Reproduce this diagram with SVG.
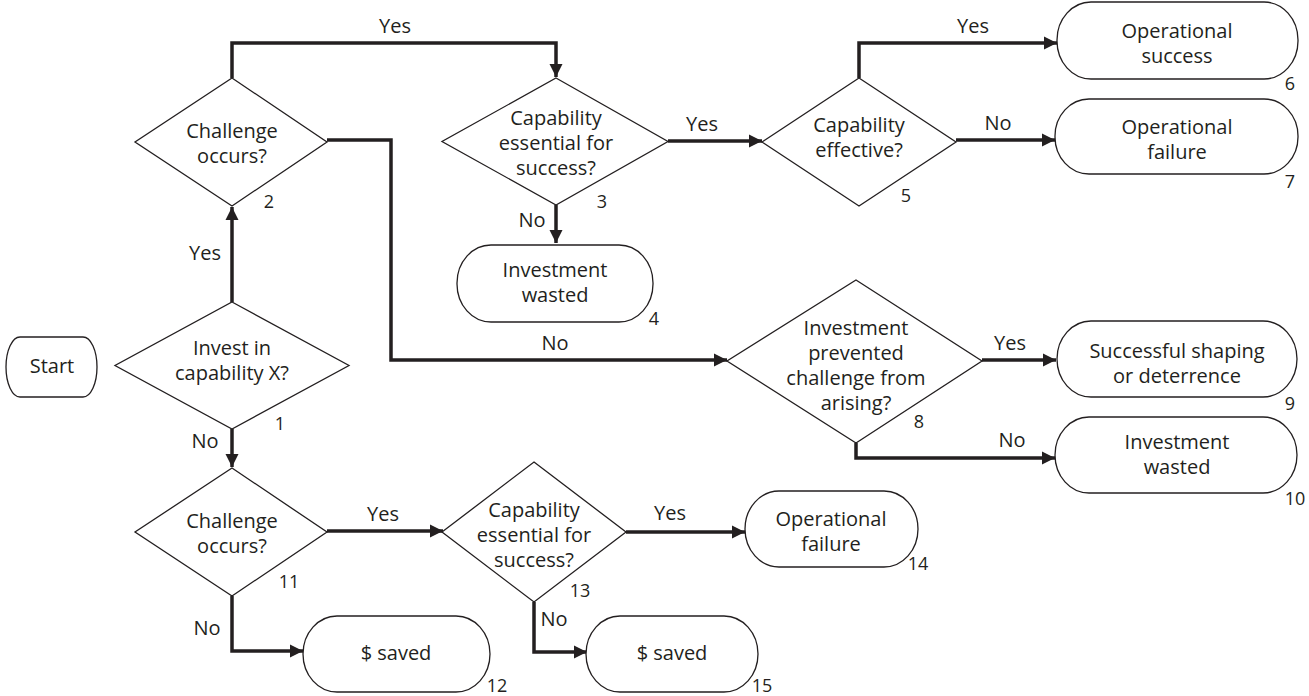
<svg xmlns="http://www.w3.org/2000/svg" width="1309" height="696" viewBox="0 0 1309 696">
<style>
text{font-family:"Open Sans","Noto Sans","Liberation Sans",sans-serif;font-size:20px;fill:#231f20;text-anchor:middle}
.num{font-size:18px}
.shape{fill:#fff;stroke:#231f20;stroke-width:1.3}
.conn{fill:none;stroke:#231f20;stroke-width:3.5;stroke-linejoin:miter}
.arr{marker-end:url(#ah)}
</style>
<defs>
<marker id="ah" markerUnits="userSpaceOnUse" markerWidth="14" markerHeight="14" refX="13" refY="7" orient="auto" viewBox="0 0 14 14">
<path d="M0,0.5 L13,7 L0,13.5 z" fill="#231f20"/>
</marker>
</defs>
<rect width="1309" height="696" fill="#fff"/>
<g id="connectors">
<path class="conn arr" d="M232,78 V43 H556 V77"/>
<path class="conn arr" d="M668,141 H762"/>
<path class="conn arr" d="M859,78 V43 H1057"/>
<path class="conn arr" d="M956,140 H1055"/>
<path class="conn arr" d="M556,205 V243"/>
<path class="conn arr" d="M327,140 H391 V360 H727"/>
<path class="conn arr" d="M982,360 H1056"/>
<path class="conn arr" d="M856,443 V458 H1055"/>
<path class="conn arr" d="M232,302 V207"/>
<path class="conn arr" d="M232,429 V467"/>
<path class="conn arr" d="M327,531 H443"/>
<path class="conn arr" d="M626,532 H745"/>
<path class="conn arr" d="M534,602 V652 H587"/>
<path class="conn arr" d="M232,596 V651 H303"/>
<text x="395" y="33">Yes</text>
<text x="702" y="131">Yes</text>
<text x="973" y="33">Yes</text>
<text x="998" y="130">No</text>
<text x="532" y="227">No</text>
<text x="555" y="350">No</text>
<text x="1010" y="350">Yes</text>
<text x="1012" y="447">No</text>
<text x="205" y="260">Yes</text>
<text x="205" y="448">No</text>
<text x="383" y="521">Yes</text>
<text x="207" y="635">No</text>
<text x="670" y="520">Yes</text>
<text x="554" y="626">No</text>
</g>
<g id="start">
<path class="shape" d="M20,337 H83 A14 30 0 0 1 83,397 H20 A14 30 0 0 1 20,337 Z"/>
<text x="52" y="373">Start</text>
</g>
<g id="n1">
<polygon class="shape" points="232,302 349,365.5 232,429 115,365.5"/>
<text x="232" y="355">Invest in</text>
<text x="232" y="380">capability X?</text>
<text class="num" x="280" y="430">1</text>
</g>
<g id="n2">
<polygon class="shape" points="232,78 327,142 232,206 135,142"/>
<text x="232" y="138">Challenge</text>
<text x="232" y="163">occurs?</text>
<text class="num" x="269" y="208">2</text>
</g>
<g id="n3">
<polygon class="shape" points="556,78 668,141.5 556,205 442,141.5"/>
<text x="556" y="125">Capability</text>
<text x="556" y="150">essential for</text>
<text x="556" y="175">success?</text>
<text class="num" x="602" y="208">3</text>
</g>
<g id="n4">
<rect class="shape" x="457" y="245" width="196" height="77" rx="34" ry="38"/>
<text x="555" y="277">Investment</text>
<text x="555" y="302">wasted</text>
<text class="num" x="654" y="325">4</text>
</g>
<g id="n5">
<polygon class="shape" points="859,78 956,142 859,206 762,142"/>
<text x="859" y="132">Capability</text>
<text x="859" y="157">effective?</text>
<text class="num" x="906" y="202">5</text>
</g>
<g id="n6">
<rect class="shape" x="1057" y="2" width="241" height="77" rx="34" ry="38"/>
<text x="1177" y="38">Operational</text>
<text x="1177" y="63">success</text>
<text class="num" x="1290" y="90">6</text>
</g>
<g id="n7">
<rect class="shape" x="1055" y="99" width="243" height="75" rx="34" ry="37"/>
<text x="1177" y="134">Operational</text>
<text x="1177" y="159">failure</text>
<text class="num" x="1290" y="188">7</text>
</g>
<g id="n8">
<polygon class="shape" points="856,280 982,361 856,443 727,361"/>
<text x="856" y="335">Investment</text>
<text x="856" y="360">prevented</text>
<text x="856" y="385">challenge from</text>
<text x="856" y="410">arising?</text>
<text class="num" x="919" y="428">8</text>
</g>
<g id="n9">
<rect class="shape" x="1057" y="321" width="240" height="76" rx="34" ry="38"/>
<text x="1177" y="358">Successful shaping</text>
<text x="1177" y="383">or deterrence</text>
<text class="num" x="1290" y="410">9</text>
</g>
<g id="n10">
<rect class="shape" x="1055" y="417" width="242" height="76" rx="34" ry="38"/>
<text x="1177" y="449">Investment</text>
<text x="1177" y="474">wasted</text>
<text class="num" x="1295" y="505">10</text>
</g>
<g id="n11">
<polygon class="shape" points="232,468 327,532 232,596 135,532"/>
<text x="232" y="528">Challenge</text>
<text x="232" y="553">occurs?</text>
<text class="num" x="289" y="588">11</text>
</g>
<g id="n12">
<rect class="shape" x="303" y="616" width="187" height="76" rx="34" ry="38"/>
<text x="396" y="660">$ saved</text>
<text class="num" x="497" y="692">12</text>
</g>
<g id="n13">
<polygon class="shape" points="534,462 626,532 534,602 442,532"/>
<text x="534" y="517">Capability</text>
<text x="534" y="542">essential for</text>
<text x="534" y="567">success?</text>
<text class="num" x="580" y="597">13</text>
</g>
<g id="n14">
<rect class="shape" x="745" y="491" width="173" height="76" rx="34" ry="38"/>
<text x="831" y="526">Operational</text>
<text x="831" y="551">failure</text>
<text class="num" x="918" y="570">14</text>
</g>
<g id="n15">
<rect class="shape" x="586" y="616" width="172" height="76" rx="34" ry="38"/>
<text x="672" y="660">$ saved</text>
<text class="num" x="762" y="692">15</text>
</g>
</svg>
